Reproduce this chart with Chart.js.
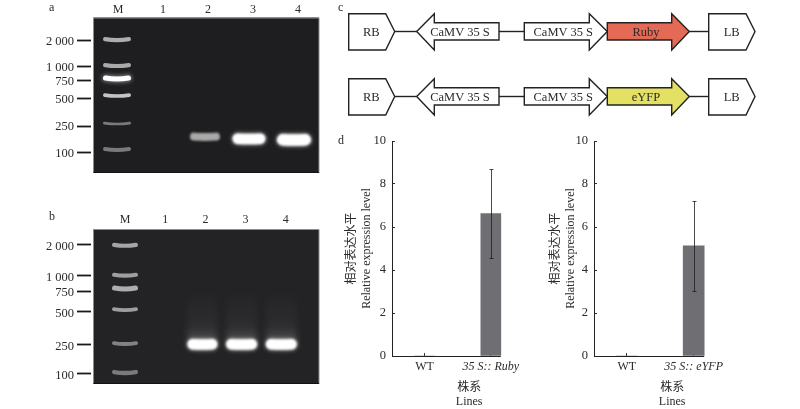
<!DOCTYPE html>
<html lang="zh">
<head>
<meta charset="utf-8">
<title>Gel electrophoresis, constructs and relative expression</title>
<script src="https://cdn.jsdelivr.net/npm/chart.js@4"></script>
<style>
  html,body{margin:0;padding:0;background:#fff;}
  #page{position:relative;width:800px;height:409px;overflow:hidden;filter:blur(.35px);
        font-family:"Liberation Serif","Noto Sans CJK SC",serif;color:#2b2b2b;}
  canvas{position:absolute;display:block;}
  .tag{position:absolute;font-size:12px;line-height:14px;}
  svg{position:absolute;left:0;top:0;}
  svg text{font-family:"Liberation Serif",serif;font-size:12.5px;fill:#2b2b2b;text-anchor:middle;dominant-baseline:central;}
</style>
</head>
<body>
<div id="page">
  <div class="tag" style="left:49px;top:0">a</div>
  <div class="tag" style="left:49px;top:209px">b</div>
  <div class="tag" style="left:338px;top:0">c</div>
  <div class="tag" style="left:338px;top:133px">d</div>
  <canvas id="gelA" width="330" height="190" style="left:0;top:0"></canvas>
  <canvas id="gelB" width="330" height="199" style="left:0;top:205px"></canvas>
  <svg id="maps" width="800" height="130"></svg>
  <canvas id="barRuby" width="210" height="279" style="left:340px;top:130px"></canvas>
  <canvas id="barYfp" width="220" height="279" style="left:540px;top:130px"></canvas>
</div>
<script>
// ---- gel lanes and ladder ----
const laneLabels = ['M', '1', '2', '3', '4'];
const ladderLabels = ['2 000', '1 000', '750', '500', '250', '100'];

// gel a: migration read as % of gel height
const gelATickPos = [15.1, 31.8, 40.8, 52.4, 69.8, 87.1];
const gelAMarkerPos = [14.5, 31.2, 39.5, 50.5, 68.5, 85.2];
const gelAMarkerLevel = [0.62, 0.6, 1.0, 0.72, 0.38, 0.38];
const gelASampleLane = [2, 3, 4];
const gelASamplePos = [76.8, 78.1, 78.8];
const gelASampleLevel = [0.6, 1.0, 1.0];

// gel b
const gelBTickPos = [10.3, 30.1, 40.0, 53.4, 74.8, 93.5];
const gelBMarkerPos = [10.8, 30.1, 38.7, 52.3, 74.2, 92.9];
const gelBMarkerLevel = [0.58, 0.55, 0.62, 0.55, 0.42, 0.38];
const gelBSampleLane = [2, 3, 4];
const gelBSamplePos = [74.5, 74.5, 74.5];
const gelBSampleLevel = [1.0, 1.0, 1.0];

// ---- relative expression ----
const lineLabelsRuby = ['WT', '35 S:: Ruby'];
const lineValuesRuby = [0, 6.62];
const lineErrLowRuby = [0, 4.55];
const lineErrHighRuby = [0, 8.7];

const lineLabelsYfp = ['WT', '35 S:: eYFP'];
const lineValuesYfp = [0, 5.12];
const lineErrLowYfp = [0, 3.02];
const lineErrHighYfp = [0, 7.22];

const yTicks = [0, 2, 4, 6, 8, 10];
const TEXT = '#2b2b2b';
const SERIF = '"Liberation Serif","Noto Sans CJK SC",serif';
Chart.defaults.font.family = SERIF;
Chart.defaults.color = TEXT;

// ---- gel painter: background, lane glow and blurred bands ----
const gelPlugin = {
  id: 'gel',
  beforeDatasetsDraw(chart, _a, o) {
    const {ctx, chartArea: c} = chart;
    const left = c.left + o.gap;
    ctx.save();
    ctx.fillStyle = o.bg;
    ctx.fillRect(left, c.top, c.right - left, c.bottom - c.top);
    ctx.strokeStyle = '#8d8d8d';
    ctx.lineWidth = 1;
    ctx.beginPath();
    ctx.moveTo(left, c.bottom); ctx.lineTo(left, c.top + .5); ctx.lineTo(c.right, c.top + .5); ctx.lineTo(c.right, c.bottom);
    ctx.stroke();
    ctx.strokeStyle = '#111';
    ctx.beginPath(); ctx.moveTo(left, c.bottom - .5); ctx.lineTo(c.right, c.bottom - .5); ctx.stroke();
    ctx.restore();
  },
  afterDatasetsDraw(chart, _a, o) {
    const {ctx} = chart;
    ctx.save();
    const y = chart.scales.y;
    // smear above the sample bands
    chart.getDatasetMeta(1).data.forEach((el, i) => {
      if (!o.smear) return;
      const x = el.x + o.sampleShift[i], yBottom = el.y - 4, yTop = y.getPixelForValue(o.smear);
      const g = ctx.createLinearGradient(0, yTop, 0, yBottom);
      g.addColorStop(0, 'rgba(255,255,255,0)');
      g.addColorStop(.75, 'rgba(255,255,255,.05)');
      g.addColorStop(1, 'rgba(255,255,255,.2)');
      ctx.filter = 'blur(3px)';
      ctx.fillStyle = g;
      ctx.fillRect(x - o.sampleWidth[i] / 2, yTop, o.sampleWidth[i], yBottom - yTop);
    });
    const stroke = (x, yy, w, h, level, bow) => {
      const half = Math.max(w - h, 2) / 2;
      const v = Math.round(40 + 215 * level);
      ctx.lineCap = 'round';
      if (level > .9) {
        ctx.filter = 'blur(2px)';
        ctx.strokeStyle = 'rgba(230,230,230,.55)';
        ctx.lineWidth = h + 1.5;
        ctx.beginPath(); ctx.moveTo(x - half, yy - bow); ctx.quadraticCurveTo(x, yy + bow, x + half, yy - bow); ctx.stroke();
      }
      ctx.filter = 'blur(' + (h > 6 ? 1 : .7) + 'px)';
      ctx.strokeStyle = `rgb(${v},${v},${v})`;
      ctx.lineWidth = h;
      ctx.beginPath(); ctx.moveTo(x - half, yy - bow); ctx.quadraticCurveTo(x, yy + bow, x + half, yy - bow); ctx.stroke();
    };
    const markers = chart.data.datasets[0], samples = chart.data.datasets[1];
    chart.getDatasetMeta(0).data.forEach((el, i) =>
      stroke(el.x + o.markerShift, el.y, o.markerWidth, o.markerThick[i], markers.levels[i], .9));
    chart.getDatasetMeta(1).data.forEach((el, i) =>
      stroke(el.x + o.sampleShift[i], el.y, o.sampleWidth[i], o.sampleThick[i], samples.levels[i], .3));
    ctx.restore();
  }
};

function gelChart(id, cfg) {
  const fixedWidth = 91, fixedTop = cfg.top;
  return new Chart(document.getElementById(id), {
    type: 'scatter',
    plugins: [gelPlugin],
    data: {
      datasets: [
        {label: 'Marker', levels: cfg.markerLevel, data: cfg.markerPos.map(p => ({x: 0, y: p})), pointRadius: 0},
        {label: 'Samples', levels: cfg.sampleLevel, data: cfg.samplePos.map((p, i) => ({x: cfg.sampleLane[i], y: p})), pointRadius: 0}
      ]
    },
    options: {
      responsive: false, animation: false, devicePixelRatio: 1,
      layout: {padding: {right: 11, bottom: cfg.bottom}},
      plugins: {
        legend: {display: false}, tooltip: {enabled: false},
        gel: cfg.style
      },
      scales: {
        x: {
          type: 'linear', position: 'top', min: cfg.xMin, max: cfg.xMax,
          border: {display: false},
          grid: {display: false, drawTicks: false},
          afterBuildTicks(s) { s.ticks = laneLabels.map((_, i) => ({value: i})); },
          afterFit(s) { s.height = fixedTop; },
          ticks: {
            autoSkip: false, maxRotation: 0, padding: cfg.topPad, color: TEXT, font: {size: 12},
            callback: v => laneLabels[v]
          }
        },
        y: {
          type: 'linear', reverse: true, min: 0, max: 100,
          border: {display: false},
          grid: {drawOnChartArea: false, tickLength: 14, tickWidth: 1.8, tickColor: '#1a1a1a'},
          afterBuildTicks(s) { s.ticks = cfg.tickPos.map(v => ({value: v})); },
          afterFit(s) { s.width = fixedWidth; },
          ticks: {
            autoSkip: false, padding: 3, color: TEXT, font: {size: 12.5}, labelOffset: cfg.labelOffset,
            callback: (v, i) => ladderLabels[i]
          }
        }
      }
    }
  });
}

gelChart('gelA', {
  top: 17.5, bottom: 17, xMin: -0.6, xMax: 4.467, labelOffset: 1, topPad: 0,
  tickPos: gelATickPos, markerPos: gelAMarkerPos, markerLevel: gelAMarkerLevel,
  samplePos: gelASamplePos, sampleLane: gelASampleLane, sampleLevel: gelASampleLevel,
  style: {bg: '#1e1e20', gap: 2.5, markerShift: -1, markerWidth: 28, sampleShift: [-3, -4, -4],
          markerThick: [4.2, 4.2, 5, 3.6, 2.6, 4], sampleThick: [8, 10.5, 11.5], sampleWidth: [30, 33, 34], smear: 0}
});
gelChart('gelB', {
  top: 24, bottom: 20, xMin: -0.846, xMax: 4.826, labelOffset: 2, topPad: 2,
  tickPos: gelBTickPos, markerPos: gelBMarkerPos, markerLevel: gelBMarkerLevel,
  samplePos: gelBSamplePos, sampleLane: gelBSampleLane, sampleLevel: gelBSampleLevel,
  style: {bg: '#232325', gap: 2.5, markerShift: 0, markerWidth: 26, sampleShift: [-3, -4, -4.5],
          markerThick: [4.2, 4.2, 5, 3.8, 3.8, 4.4], sampleThick: [10.5, 10.5, 10.5], sampleWidth: [30, 31, 31], smear: 38}
});

// ---- expression charts ----
const barExtras = {
  id: 'barExtras',
  afterDatasetsDraw(chart, _a, o) {
    const {ctx, chartArea: c} = chart;
    const xs = chart.scales.x, ys = chart.scales.y;
    ctx.save();
    // x axis line runs only as far as the right edge of the last bar
    const last = chart.getDatasetMeta(0).data[1];
    ctx.strokeStyle = '#222';
    ctx.lineWidth = 1;
    ctx.beginPath();
    ctx.moveTo(c.left, Math.round(c.bottom) + .5);
    ctx.lineTo(last.x + last.width / 2, Math.round(c.bottom) + .5);
    ctx.stroke();
    // error bars
    ctx.strokeStyle = 'rgba(30,30,30,.8)';
    o.low.forEach((lo, i) => {
      const hi = o.high[i];
      if (lo === hi) return;
      const x = Math.round(xs.getPixelForValue(i)) + .5;
      const a = Math.round(ys.getPixelForValue(lo)) + .5, b = Math.round(ys.getPixelForValue(hi)) + .5;
      ctx.beginPath();
      ctx.moveTo(x, a); ctx.lineTo(x, b);
      ctx.moveTo(x - 2, a); ctx.lineTo(x + 2, a);
      ctx.moveTo(x - 2, b); ctx.lineTo(x + 2, b);
      ctx.stroke();
    });
    ctx.restore();
  }
};

function barChart(id, cfg) {
  return new Chart(document.getElementById(id), {
    type: 'bar',
    plugins: [barExtras],
    data: {
      datasets: [{
        label: 'Relative expression level',
        data: cfg.values.map((v, i) => ({x: i, y: v})),
        backgroundColor: '#6f6f73',
        barThickness: cfg.barWidth
      }]
    },
    options: {
      responsive: false, animation: false, devicePixelRatio: 1,
      layout: {padding: {top: 11, right: cfg.right}},
      plugins: {
        legend: {display: false}, tooltip: {enabled: false},
        barExtras: {low: cfg.low, high: cfg.high}
      },
      scales: {
        x: {
          type: 'linear', min: cfg.xMin, max: cfg.xMax, offset: false,
          border: {display: false},
          grid: {offset: false, drawOnChartArea: false, tickLength: -3, tickColor: '#333', tickWidth: 1},
          afterBuildTicks(s) { s.ticks = cfg.labels.map((_, i) => ({value: i})); },
          afterFit(s) { s.height = 53; s.paddingLeft = 0; s.paddingRight = 0; },
          ticks: {
            autoSkip: false, maxRotation: 0, padding: 7, color: TEXT,
            font: c => ({size: 12, style: c.index === 1 ? 'italic' : 'normal'}),
            callback: v => cfg.labels[v]
          },
          title: {display: true, text: ['株系', 'Lines'], color: TEXT, font: {size: 12, lineHeight: 1.2}, padding: {top: 0, bottom: 0}}
        },
        y: {
          min: 0, max: 10,
          border: {color: '#222'},
          grid: {drawOnChartArea: false, tickLength: -3, tickColor: '#333', tickWidth: 1},
          afterBuildTicks(s) { s.ticks = yTicks.map(v => ({value: v})); },
          afterFit(s) { s.width = cfg.yWidth; s.paddingTop = 0; s.paddingBottom = 0; },
          ticks: {padding: 9, color: TEXT, font: {size: 12.5}},
          title: {display: true, text: ['相对表达水平', 'Relative expression level'], color: TEXT, font: {size: 12, lineHeight: 1.2}, padding: {top: cfg.titlePad, bottom: 0}}
        }
      }
    }
  });
}

barChart('barRuby', {
  labels: lineLabelsRuby, values: lineValuesRuby, low: lineErrLowRuby, high: lineErrHighRuby,
  xMin: -0.491, xMax: 1.837, yWidth: 52, right: 3.7, barWidth: 20, titlePad: 5
});
barChart('barYfp', {
  labels: lineLabelsYfp, values: lineValuesYfp, low: lineErrLowYfp, high: lineErrHighYfp,
  xMin: -0.49, xMax: 1.846, yWidth: 54, right: 9.7, barWidth: 21, titlePad: 9
});

// ---- construct maps ----
const mapGenes = ['Ruby', 'eYFP'];
const mapFills = ['#e56a55', '#e3e064'];
const svgNS = 'http://www.w3.org/2000/svg';
const svg = document.getElementById('maps');
function shape(tag, attrs, text) {
  const n = document.createElementNS(svgNS, tag);
  for (const k in attrs) n.setAttribute(k, attrs[k]);
  if (text) n.textContent = text;
  svg.appendChild(n);
}
mapGenes.forEach((gene, r) => {
  const dy = r * 65, T = 13.7 + dy, B = 50 + dy, M = 31.5 + dy, t = 22.7 + dy, b = 40 + dy;
  const st = {stroke: '#222', 'stroke-width': 1.4, 'stroke-linejoin': 'miter'};
  shape('line', {x1: 394, y1: M, x2: 417, y2: M, ...st});
  shape('line', {x1: 499, y1: M, x2: 525, y2: M, ...st});
  shape('line', {x1: 689, y1: M, x2: 709, y2: M, ...st});
  shape('polygon', {points: `348.7,${T} 385.7,${T} 394.7,${M} 385.7,${B} 348.7,${B}`, fill: '#fff', ...st});
  shape('polygon', {points: `416.7,${M} 434.3,${T} 434.3,${t} 499,${t} 499,${b} 434.3,${b} 434.3,${B}`, fill: '#fff', ...st});
  shape('polygon', {points: `524.3,${t} 589.3,${t} 589.3,${T} 607.3,${M} 589.3,${B} 589.3,${b} 524.3,${b}`, fill: '#fff', ...st});
  shape('polygon', {points: `607.3,${t} 671.7,${t} 671.7,${T} 689.3,${M} 671.7,${B} 671.7,${b} 607.3,${b}`, fill: mapFills[r], ...st});
  shape('polygon', {points: `708.7,${T} 746,${T} 755,${M} 746,${B} 708.7,${B}`, fill: '#fff', ...st});
  shape('text', {x: 371.3, y: M}, 'RB');
  shape('text', {x: 460, y: M}, 'CaMV 35 S');
  shape('text', {x: 563.3, y: M}, 'CaMV 35 S');
  shape('text', {x: 646, y: M}, gene);
  shape('text', {x: 731.7, y: M}, 'LB');
});
</script>
</body>
</html>
